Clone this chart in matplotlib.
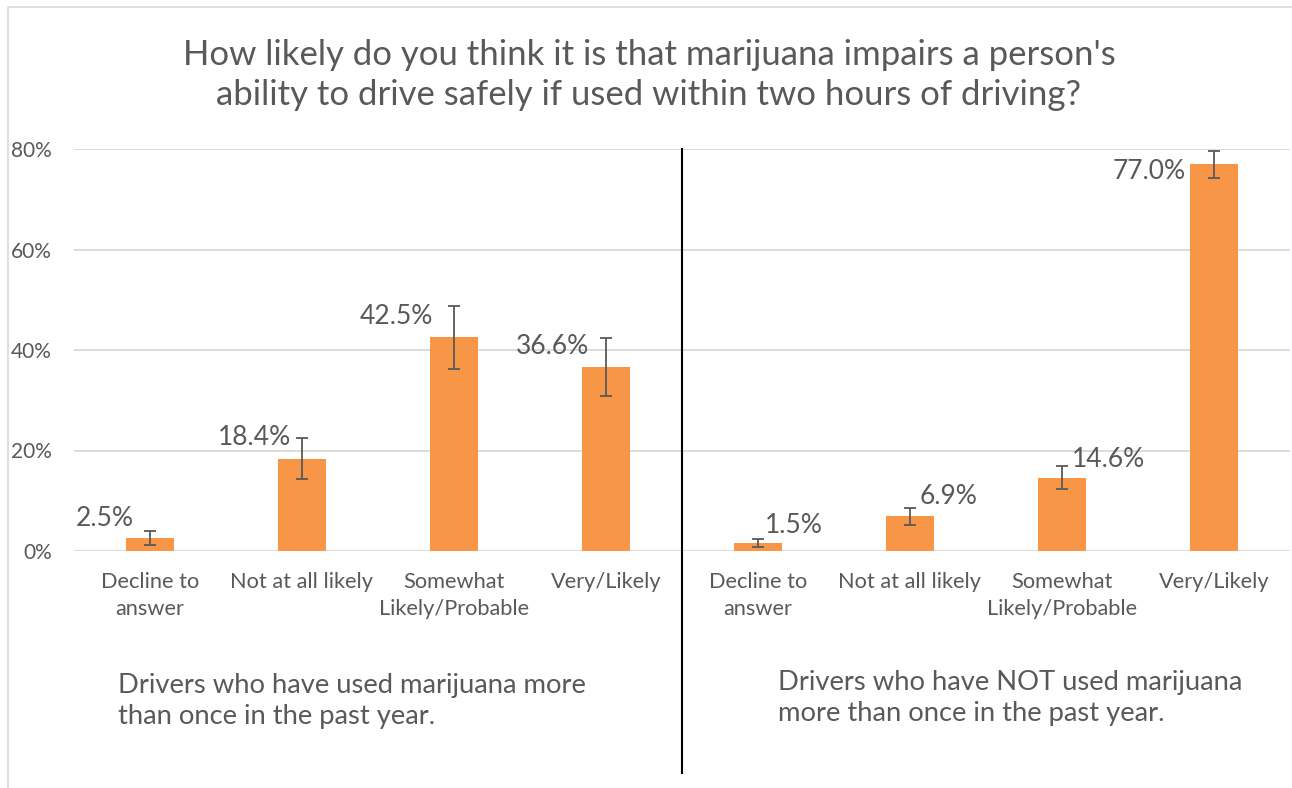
import matplotlib.pyplot as plt
from matplotlib.patches import Rectangle

plt.rcParams['font.family'] = ['Lato', 'DejaVu Sans']

categories = ['Decline to\nanswer', 'Not at all likely',
              'Somewhat\nLikely/Probable', 'Very/Likely']
users = [2.5, 18.4, 42.5, 36.6]
users_err = [1.4, 4.1, 6.3, 5.7]
non_users = [1.5, 6.9, 14.6, 77.0]
non_users_err = [0.8, 1.7, 2.3, 2.7]
yticks = [0, 20, 40, 60, 80]
title = ("How likely do you think it is that marijuana impairs a person's\n"
         "ability to drive safely if used within two hours of driving?")
group_labels = ['Drivers who have used marijuana more\nthan once in the past year.',
                'Drivers who have NOT used marijuana\nmore than once in the past year.']

# label offsets (points) relative to each bar top, mimicking Excel's placement
label_offsets = [(-12, 14), (-8, 15), (-15, 15), (-12, 15),
                 (5, 13), (7, 14), (7, 13), (-20, -5)]
label_ha = ['right', 'right', 'right', 'right', 'left', 'left', 'left', 'right']

grey = '#595959'
values = users + non_users
errs = users_err + non_users_err
xs = list(range(len(values)))

fig = plt.figure(figsize=(12.92, 7.88), dpi=100)
fig.patches.append(Rectangle((8 / 1292, -0.1), 1.2, 1 - 7 / 788 + 0.1,
                             transform=fig.transFigure, fill=False,
                             edgecolor='#d9d9d9', lw=1.2))
ax = fig.add_axes([74 / 1292, 237 / 788, 1216 / 1292, 402 / 788])

ax.bar(xs, values, width=0.31, color='#F79646', zorder=2)
ax.errorbar(xs, values, yerr=errs, fmt='none', ecolor=grey, elinewidth=1.3,
            capsize=4.3, capthick=1.3, zorder=3, clip_on=False)

for x, v, off, ha in zip(xs, values, label_offsets, label_ha):
    ax.annotate(f'{v:.1f}%', (x, v), xytext=off, textcoords='offset points',
                ha=ha, va='center', fontsize=19, color=grey)

ax.set_xlim(-0.5, len(values) - 0.5)
ax.set_ylim(0, 80)
ax.set_yticks(yticks)
ax.set_yticklabels([f'{t}%' for t in yticks], fontsize=15)
ax.set_xticks(xs)
ax.set_xticklabels(categories * 2, linespacing=1.45, fontsize=15.7)
ax.tick_params(axis='both', length=0, colors=grey)
ax.tick_params(axis='y', pad=16)
ax.tick_params(axis='x', pad=15)
ax.grid(axis='y', color='#d9d9d9', lw=1.3, zorder=0)
for s in ax.spines.values():
    s.set_visible(False)

ax.axvline(3.5, ymin=-0.552, ymax=1.0, color='black', lw=1.5, clip_on=False)

fig.text(649 / 1292, 1 - 75 / 788, title, ha='center', va='center',
         fontsize=25, color=grey, linespacing=1.3)
fig.text(118 / 1292, 1 - 701 / 788, group_labels[0], ha='left', va='center',
         fontsize=19.7, color=grey, linespacing=1.32)
fig.text(778 / 1292, 1 - 698 / 788, group_labels[1], ha='left', va='center',
         fontsize=19.7, color=grey, linespacing=1.32)

fig.savefig('out.png', dpi=100)
